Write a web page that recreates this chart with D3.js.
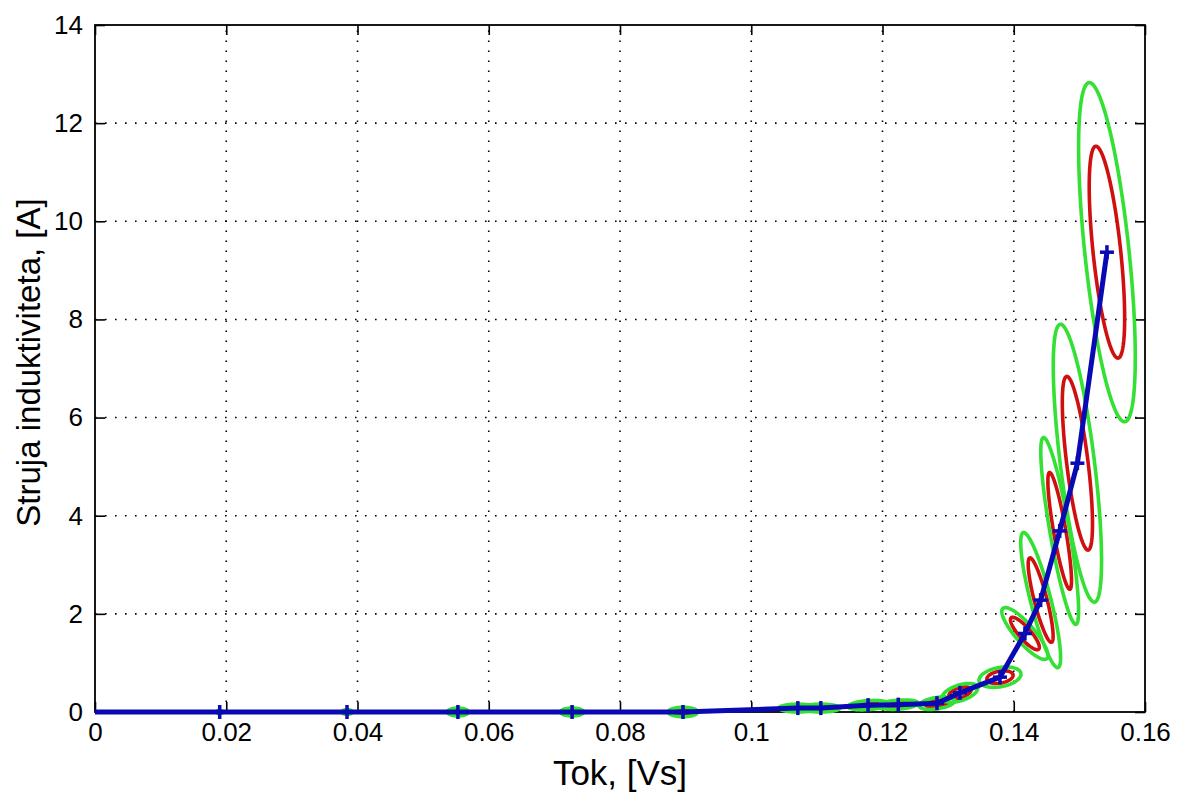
<!DOCTYPE html>
<html>
<head>
<meta charset="utf-8">
<script src="https://cdn.jsdelivr.net/npm/d3@7"></script>
<style>
    body { margin: 0; background: #fff; }
    text { font-family: "Liberation Sans", Arial, sans-serif; fill: #000; }
</style>
</head>
<body>
<svg id="chart" width="1180" height="797"></svg>
<script>
'use strict';

// tick values / labels
var xTicks = [0, 0.02, 0.04, 0.06, 0.08, 0.1, 0.12, 0.14, 0.16]
var xTickLabels = ['0', '0.02', '0.04', '0.06', '0.08', '0.1', '0.12', '0.14', '0.16']
var yTicks = [0, 2, 4, 6, 8, 10, 12, 14]
var yTickLabels = ['0', '2', '4', '6', '8', '10', '12', '14']

// estimated points (flux, current)
var fluxX = [0, 0.0190, 0.0384, 0.0553, 0.0727, 0.0896, 0.1071, 0.1106, 0.1178, 0.1224, 0.1283, 0.1318, 0.1379, 0.1417, 0.1441, 0.1470, 0.1497, 0.1542]
var currentY = [0, 0, 0, 0, 0, 0, 0.08, 0.08, 0.14, 0.15, 0.18, 0.39, 0.71, 1.60, 2.28, 3.69, 5.07, 9.37]

// uncertainty of each point (inner/red ellipse), outer one is scaled
var sigmaX = [0, 0.0003, 0.0005, 0.0010, 0.0011, 0.0014, 0.0018, 0.0018, 0.0019, 0.0019, 0.0017, 0.0017, 0.0020, 0.0022, 0.0019, 0.0018, 0.0023, 0.0027]
var sigmaY = [0, 0.02, 0.03, 0.05, 0.05, 0.06, 0.05, 0.05, 0.06, 0.06, 0.08, 0.12, 0.13, 0.33, 0.86, 1.19, 1.77, 2.16]
var corr = [0, 0, 0, 0, 0, 0, 0, 0, 0.3, 0.3, 0.4, 0.5, 0.3, -0.85, -0.85, -0.85, -0.7, -0.62]
var ellipseScales = [1, 1.6]
var ellipseColors = ['#d01010', '#33e033']

var margin = {left: 95, top: 25, right: 35, bottom: 85}
var svg = d3.select('#chart')
var width = +svg.attr('width') - margin.left - margin.right
var height = +svg.attr('height') - margin.top - margin.bottom

var x = d3.scaleLinear().domain([0, 0.16]).range([0, width])
var y = d3.scaleLinear().domain([0, 14]).range([height, 0])

var g = svg.append('g').attr('transform', 'translate(' + margin.left + ',' + margin.top + ')')

// dotted grid
var grid = g.append('g').attr('class', 'grid')
    .attr('stroke', '#000').attr('stroke-width', 1.6).attr('stroke-dasharray', '1.6,8.4')
grid.selectAll('.gx').data(xTicks.slice(1, -1)).enter().append('line')
    .attr('x1', function(d) { return x(d) }).attr('x2', function(d) { return x(d) })
    .attr('y1', height).attr('y2', 0)
grid.selectAll('.gy').data(yTicks.slice(1, -1)).enter().append('line')
    .attr('y1', function(d) { return y(d) }).attr('y2', function(d) { return y(d) })
    .attr('x1', 0).attr('x2', width)

// axes, ticks pointing inward on all four sides
function styleAxis(sel) {
    sel.select('.domain').remove()
    sel.selectAll('.tick line').attr('stroke', '#000').attr('stroke-width', 1.6)
    sel.selectAll('.tick text').attr('font-size', 26).attr('font-family', '"Liberation Sans", Arial, sans-serif')
}

g.append('g').attr('transform', 'translate(0,' + height + ')')
    .call(d3.axisBottom(x).tickValues(xTicks).tickSizeInner(-10).tickSizeOuter(0).tickPadding(11)
        .tickFormat(function(d, i) { return xTickLabels[i] }))
    .call(styleAxis)
g.append('g')
    .call(d3.axisTop(x).tickValues(xTicks).tickSizeInner(-10).tickSizeOuter(0).tickFormat(''))
    .call(styleAxis)
g.append('g')
    .call(d3.axisLeft(y).tickValues(yTicks).tickSizeInner(-10).tickSizeOuter(0).tickPadding(12)
        .tickFormat(function(d, i) { return yTickLabels[i] }))
    .call(styleAxis)
g.append('g').attr('transform', 'translate(' + width + ',0)')
    .call(d3.axisRight(y).tickValues(yTicks).tickSizeInner(-10).tickSizeOuter(0).tickFormat(''))
    .call(styleAxis)

g.append('rect')
    .attr('width', width).attr('height', height)
    .attr('fill', 'none').attr('stroke', '#000').attr('stroke-width', 1.8)

var plot = g.append('g')

function ellipsePoints(i, k) {
    var pts = []
    var s = Math.sqrt(1 - corr[i] * corr[i])
    for (var j = 0; j <= 120; j++) {
        var t = j / 120 * 2 * Math.PI
        pts.push([
            fluxX[i] + k * sigmaX[i] * Math.cos(t),
            currentY[i] + k * sigmaY[i] * (corr[i] * Math.cos(t) + s * Math.sin(t))
        ])
    }
    return pts
}

var ellipseLine = d3.line()
    .x(function(d) { return x(d[0]) })
    .y(function(d) { return y(d[1]) })
    .curve(d3.curveLinearClosed)

var idx = d3.range(fluxX.length).filter(function(i) { return sigmaX[i] > 0 })

ellipseScales.forEach(function(k, n) {
    plot.append('g')
        .selectAll('path')
        .data(idx)
        .enter().append('path')
        .attr('d', function(i) { return ellipseLine(ellipsePoints(i, k)) })
        .attr('fill', 'none')
        .attr('stroke', ellipseColors[n])
        .attr('stroke-width', 3.6)
})

var curve = d3.line()
    .x(function(i) { return x(fluxX[i]) })
    .y(function(i) { return y(currentY[i]) })

plot.append('path')
    .attr('d', curve(d3.range(fluxX.length)))
    .attr('fill', 'none')
    .attr('stroke', '#0a0ab4')
    .attr('stroke-width', 5)
    .attr('stroke-linejoin', 'round')

// + markers
var marker = plot.append('g').attr('stroke', '#0a0ab4').attr('stroke-width', 3.5)
    .selectAll('g').data(idx).enter().append('g')
    .attr('transform', function(i) { return 'translate(' + x(fluxX[i]) + ',' + y(currentY[i]) + ')' })
marker.append('line').attr('x1', -7).attr('x2', 7)
marker.append('line').attr('y1', -7).attr('y2', 7)

g.append('text')
    .attr('x', width / 2).attr('y', height + 73)
    .attr('text-anchor', 'middle').attr('font-size', 35)
    .text('Tok, [Vs]')

g.append('text')
    .attr('transform', 'translate(' + (40 - margin.left) + ',' + (height / 2 - 6) + ') rotate(-90)')
    .attr('text-anchor', 'middle').attr('font-size', 33)
    .text('Struja induktiviteta, [A]')
</script>
</body>
</html>
